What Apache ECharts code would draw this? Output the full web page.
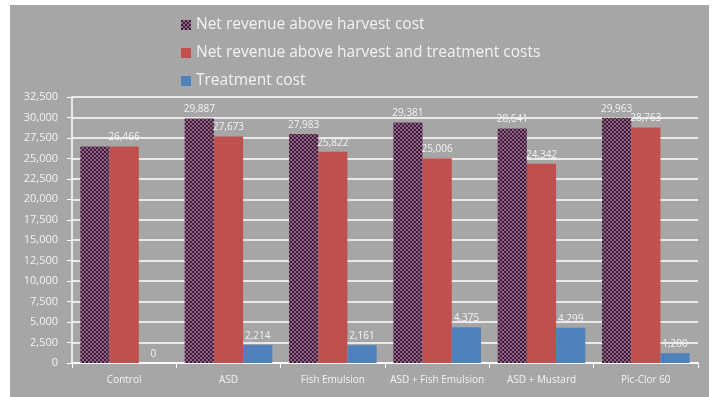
<!DOCTYPE html>
<html>
<head>
<meta charset="utf-8">
<script src="https://cdn.jsdelivr.net/npm/echarts@6/dist/echarts.min.js"></script>
<style>
  html, body { margin: 0; padding: 0; background: #ffffff; }
  #chart { position: absolute; left: 10px; top: 5px; width: 699px; height: 392px; background: #a6a6a6; }
</style>
</head>
<body>
<div id="chart"></div>
<script>
// Treatments and per-acre economics
const categories = ['Control', 'ASD', 'Fish Emulsion', 'ASD + Fish Emulsion', 'ASD + Mustard', 'Pic-Clor 60'];
const netAboveHarvest = [26466, 29887, 27983, 29381, 28641, 29963];
const netAboveHarvestTreatment = [26466, 27673, 25822, 25006, 24342, 28763];
const treatmentCost = [0, 2214, 2161, 4375, 4299, 1200];
const seriesNames = [
  'Net revenue above harvest cost',
  'Net revenue above harvest and treatment costs',
  'Treatment cost'
];

// Checkered fill for the first series
function checkerPattern() {
  const c = document.createElement('canvas');
  c.width = 4; c.height = 4;
  const g = c.getContext('2d');
  g.fillStyle = '#93608a';
  g.fillRect(0, 0, 4, 4);
  g.fillStyle = '#3a1f35';
  g.fillRect(0, 0, 2, 2);
  g.fillRect(2, 2, 2, 2);
  return c;
}
const checker = { image: checkerPattern(), repeat: 'repeat' };

const fmt = v => v.toLocaleString('en-US');
const textColor = '#f2f2f2';
const font = 'Open Sans';

const labelStyle = {
  show: true,
  position: 'top',
  distance: 4,
  color: textColor,
  fontFamily: font,
  fontSize: 10,
  formatter: p => fmt(p.value)
};

const chart = echarts.init(document.getElementById('chart'));
chart.setOption({
  animation: false,
  textStyle: { fontFamily: font },
  legend: {
    orient: 'vertical',
    left: 166,
    top: 7,
    itemWidth: 10,
    itemHeight: 10,
    itemGap: 12,
    icon: 'rect',
    textStyle: { color: textColor, fontSize: 15.5, fontFamily: font },
    data: seriesNames
  },
  grid: { left: 62, right: 11, top: 92, bottom: 34 },
  xAxis: {
    type: 'category',
    data: categories,
    axisLine: { lineStyle: { color: '#ffffff', width: 1.5 } },
    axisTick: { show: true, alignWithLabel: false, length: 5, lineStyle: { color: '#ffffff' } },
    axisLabel: { interval: 0, color: textColor, fontSize: 10, margin: 12, fontFamily: font }
  },
  yAxis: {
    type: 'value',
    min: 0,
    max: 32500,
    interval: 2500,
    axisLine: { show: true, lineStyle: { color: '#ffffff', width: 1.5 } },
    axisTick: { show: true, length: 5, lineStyle: { color: '#ffffff' } },
    axisLabel: { color: textColor, fontSize: 11, margin: 14, fontFamily: font, formatter: v => fmt(v) },
    splitLine: { lineStyle: { color: '#ffffff', width: 1.5 } }
  },
  series: [
    {
      name: seriesNames[0],
      type: 'bar',
      barGap: '0%',
      barCategoryGap: '16%',
      itemStyle: { color: checker },
      label: labelStyle,
      data: netAboveHarvest.map((v, i) => i === 0 ? { value: v, label: { show: false } } : v)
    },
    {
      name: seriesNames[1],
      type: 'bar',
      barGap: '0%',
      barCategoryGap: '16%',
      itemStyle: { color: '#c0504d' },
      label: labelStyle,
      data: netAboveHarvestTreatment
    },
    {
      name: seriesNames[2],
      type: 'bar',
      barGap: '0%',
      barCategoryGap: '16%',
      itemStyle: { color: '#4f81bd' },
      label: labelStyle,
      data: treatmentCost
    }
  ]
});
</script>
</body>
</html>
